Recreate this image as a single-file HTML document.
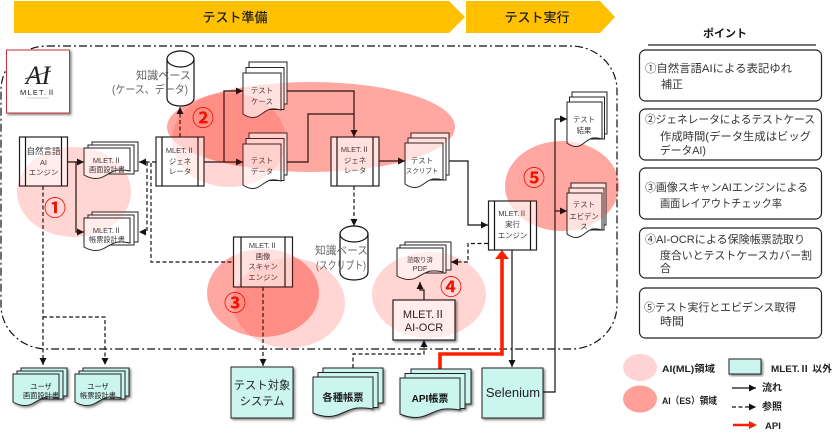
<!DOCTYPE html>
<html lang="ja"><head><meta charset="utf-8"><title>MLET.Ⅱ</title>
<style>
html,body{margin:0;padding:0;background:#fff;width:840px;height:439px;overflow:hidden}
svg{display:block;filter:blur(.35px)}
text{font-family:"Liberation Sans","Noto Sans CJK JP",sans-serif;fill:#333}
.c{text-anchor:middle}
.n{font-size:7.4px;fill:#3a3a3a}
.u{font-size:7.2px;fill:#222}
.k{font-size:11px;fill:#666}
.p{font-size:11px;fill:#333}
.l{font-size:9.5px;font-weight:bold;fill:#222}
.num{font-size:22px;font-weight:bold;fill:#f01000;text-anchor:middle}
.w{fill:#fff;stroke:#222;stroke-width:1}
.t{fill:#cbf6ef;stroke:#222;stroke-width:1}
.ln{fill:none;stroke:#111;stroke-width:1.2}
.a{fill:none;stroke:#111;stroke-width:1.2;marker-end:url(#ar)}
.d{fill:none;stroke:#111;stroke-width:1.2;stroke-dasharray:4 2.5}
.da{fill:none;stroke:#111;stroke-width:1.2;stroke-dasharray:4 2.5;marker-end:url(#ar)}
.b{fill:#fff;stroke:#222;stroke-width:1.2}
</style></head><body>
<svg width="840" height="439" viewBox="0 0 840 439" xmlns="http://www.w3.org/2000/svg">
<defs>
<marker id="ar" markerUnits="userSpaceOnUse" markerWidth="8" markerHeight="8" refX="7" refY="3.5" orient="auto"><path d="M0 0L7 3.5L0 7z" fill="#111"/></marker>
<filter id="s" x="-15%" y="-15%" width="135%" height="135%"><feDropShadow dx="1.5" dy="1.5" stdDeviation="1.2" flood-color="#000" flood-opacity=".5"/></filter>
</defs>

<!-- header chevrons -->
<path d="M14 1H449L465 17L449 33H14z" fill="#ffc000"/>
<path d="M466 1H600L615 17L600 33H466z" fill="#ffc000"/>
<text x="235" y="22" class="c" style="font-size:13px;fill:#222;font-weight:500">テスト準備</text>
<text x="537" y="22" class="c" style="font-size:13px;fill:#222;font-weight:500">テスト実行</text>

<!-- ellipses (under) -->
<g fill="#ff1200">
<ellipse cx="74" cy="192" rx="57" ry="45" opacity=".1"/>
<ellipse cx="229" cy="140" rx="57" ry="47" opacity=".1"/>
<ellipse cx="289" cy="303" rx="56" ry="45" opacity=".1"/>
<ellipse cx="429" cy="295" rx="57" ry="43" opacity=".1"/>
<ellipse cx="311" cy="127" rx="144" ry="45" opacity=".28"/>
<ellipse cx="263" cy="293" rx="56" ry="44" opacity=".28"/>
<ellipse cx="562" cy="186" rx="57" ry="45" opacity=".28"/>
</g>

<!-- boundary -->
<rect x="1" y="46" width="616" height="303" rx="46" ry="44" fill="none" stroke="#111" stroke-width="1.2" stroke-dasharray="8 3 2 3"/>

<!-- logo -->
<rect x="6.5" y="50" width="63" height="63" fill="#fff" stroke="#c8303a" stroke-width="1" filter="url(#s)"/>
<text x="38" y="84" class="c" style="font-family:'Liberation Serif',serif;font-size:26px;font-style:italic;fill:#222">AI</text>
<path d="M25 79C34 76 44 73 51 71" fill="none" stroke="#222" stroke-width=".7"/>
<text x="38" y="95" class="c" style="font-size:7.5px;letter-spacing:1.2px;fill:#222">MLET.Ⅱ</text>
<path d="M27 98H49" stroke="#999" stroke-width=".6"/>

<!-- connectors -->
<path class="a" d="M67 162H84"/>
<path class="a" d="M76 162V232H84"/>
<path class="da" d="M156 162H139"/>
<path class="da" d="M147 162V232H139"/>
<path class="d" d="M151 163V262H233"/>
<path class="da" d="M43 186V365"/>
<path class="da" d="M43 317H105V365"/>
<path class="da" d="M180 137V107"/>
<path class="a" d="M204 162H243"/>
<path class="a" d="M224 162V91H243"/>
<path class="a" d="M287 91H354V137"/>
<path class="ln" d="M287 162H308V114H354"/>
<path class="a" d="M379 161H405"/>
<path class="a" d="M449 161H468V225H488"/>
<path class="da" d="M354 186V226"/>
<path class="d" d="M488 243.500H468V262"/>
<path class="da" d="M468 262H451"/>
<path class="a" d="M424 300V290H420V282"/>
<path class="da" d="M353 368V354H424V340"/>
<path class="a" d="M512 250V367"/>
<path class="ln" d="M543 392H555V119"/>
<path class="a" d="M555 119H567"/>
<path class="a" d="M555 211H567"/>
<path class="da" d="M263 287V366"/>
<path d="M440 369V354H502V258" fill="none" stroke="#fa2000" stroke-width="3.6"/>
<path d="M495 259L502 250L509 259z" fill="#fa2000"/>

<!-- cylinders -->
<g fill="none" stroke="#111" stroke-width="1.2">
<path d="M167 59V98C167 103 173 106 180.500 106S194 103 194 98V59"/>
<ellipse cx="180.500" cy="59" rx="13.500" ry="8"/>
<path d="M340 234V272C340 277 346 280 354 280S368 277 368 272V234"/>
<ellipse cx="354" cy="234" rx="14" ry="8"/>
</g>

<!-- process boxes -->
<g class="b">
<rect class="b" x="19.500" y="137" width="48" height="49"/><path class="ln" d="M25.500 137V186M61.500 137V186"/>
<rect class="b" x="156" y="137" width="48" height="49"/><path class="ln" d="M162 137V186M198 137V186"/>
<rect class="b" x="331" y="137" width="48" height="49"/><path class="ln" d="M337 137V186M373 137V186"/>
<rect class="b" x="488.500" y="201" width="48" height="49"/><path class="ln" d="M494.500 201V250M530.500 201V250"/>
<rect class="b" x="233.500" y="237" width="59" height="50"/><path class="ln" d="M241 237V287M285 237V287"/>
</g>
<rect class="b" x="393" y="300" width="62" height="40" filter="url(#s)"/>

<!-- white docs -->
<g class="w">
<rect class="w" x="92" y="142" width="46" height="29"/><rect class="w" x="88" y="145" width="46" height="29"/>
<path class="w" d="M84 148h46v23c-13.800 -3 -16.100 0 -25.300 5c-6.900 4 -13.800 3 -20.700 -1z"/>
<rect class="w" x="92" y="212" width="46" height="30"/><rect class="w" x="88" y="215" width="46" height="30"/>
<path class="w" d="M84 218h46v25c-13.800 -3 -16.100 0 -25.300 5c-6.900 4 -13.800 3 -20.700 -1z"/>
<rect class="w" x="249" y="62" width="38" height="42"/><rect class="w" x="246" y="67.500" width="38" height="42"/>
<path class="w" d="M243 73h38v37c-11.400 -3 -13.300 0 -20.900 5c-5.700 4 -11.400 3 -17.100 -1z"/>
<rect class="w" x="249" y="133" width="38" height="42"/><rect class="w" x="246" y="138.500" width="38" height="42"/>
<path class="w" d="M243 144h38v37c-11.400 -3 -13.300 0 -20.900 5c-5.700 4 -11.400 3 -17.100 -1z"/>
<rect class="w" x="411" y="133" width="38" height="42"/><rect class="w" x="408" y="138" width="38" height="42"/>
<path class="w" d="M405 143h38v37c-11.400 -3 -13.300 0 -20.900 5c-5.700 4 -11.400 3 -17.100 -1z"/>
<rect class="w" x="572" y="92" width="35" height="42"/><rect class="w" x="569.500" y="97" width="35" height="42"/>
<path class="w" d="M567 102h35v37c-10.500 -3 -12.250 0 -19.250 5c-5.250 4 -10.500 3 -15.750 -1z"/>
<rect class="w" x="571" y="183" width="35" height="42"/><rect class="w" x="569" y="188" width="35" height="42"/>
<path class="w" d="M567 193h35v37c-10.500 -3 -12.250 0 -19.250 5c-5.250 4 -10.500 3 -15.750 -1z"/>
<rect class="w" x="405" y="242" width="46" height="28"/><rect class="w" x="400" y="245" width="46" height="28"/>
<path class="w" d="M397 248h46v24c-13.800 -3 -16.100 0 -25.300 5c-6.900 4 -13.800 3 -20.700 -1z"/>
</g>

<!-- teal nodes -->
<g filter="url(#s)">
<rect class="t" x="21" y="368" width="46" height="28"/><rect class="t" x="17" y="371" width="46" height="28"/>
<path class="t" d="M13 374h46v24c-13.800 -3 -16.100 0 -25.300 5c-6.900 4 -13.800 3 -20.700 -1z"/>
</g>
<g filter="url(#s)">
<rect class="t" x="83" y="368" width="46" height="28"/><rect class="t" x="79" y="371" width="46" height="28"/>
<path class="t" d="M75 374h46v24c-13.800 -3 -16.100 0 -25.300 5c-6.900 4 -13.800 3 -20.700 -1z"/>
</g>
<rect class="t" x="231" y="367" width="62" height="51" filter="url(#s)"/>
<g filter="url(#s)">
<rect class="t" x="323" y="368" width="60" height="35"/><rect class="t" x="318" y="372.500" width="60" height="35"/>
<path class="t" d="M313 377h60v32c-18 -3 -21 0 -33 5c-9 4 -18 3 -27 -1z"/>
</g>
<g filter="url(#s)">
<rect class="t" x="411" y="369" width="60" height="35"/><rect class="t" x="405" y="373.500" width="60" height="35"/>
<path class="t" d="M400 378h60v32c-18 -3 -21 0 -33 5c-9 4 -18 3 -27 -1z"/>
</g>
<rect class="t" x="482" y="368" width="61" height="50" filter="url(#s)"/>

<!-- labels -->
<g>
<text class="c n" x="43.500" y="154" style="font-size:8.500px">自然言語</text><text class="c n" x="43.500" y="165">AI</text><text class="c n" x="43.500" y="175">エンジン</text>
<text class="c n" x="107" y="163">MLET.Ⅱ</text><text class="c n" x="107" y="172" style="font-size:7.200px">画面設計書</text>
<text class="c n" x="107" y="233">MLET.Ⅱ</text><text class="c n" x="107" y="242" style="font-size:7.200px">帳票設計書</text>
<text class="c n" x="180" y="153">MLET.Ⅱ</text><text class="c n" x="180" y="164">ジェネ</text><text class="c n" x="180" y="174">レータ</text>
<text class="c n" x="355" y="152">MLET.Ⅱ</text><text class="c n" x="355" y="163">ジェネ</text><text class="c n" x="355" y="173">レータ</text>
<text class="c n" x="262" y="93">テスト</text><text class="c n" x="262" y="104">ケース</text>
<text class="c n" x="262" y="163">テスト</text><text class="c n" x="262" y="174">データ</text>
<text class="c n" x="422" y="163">テスト</text><text class="c n" x="422" y="173" style="font-size:6.500px">スクリプト</text>
<text class="c n" x="584" y="122">テスト</text><text class="c n" x="584" y="133">結果</text>
<text class="c n" x="584" y="207">テスト</text><text class="c n" x="584" y="219">エビデン</text><text class="c n" x="584" y="229">ス</text>
<text class="c n" x="512.500" y="216">MLET.Ⅱ</text><text class="c n" x="512.500" y="227">実行</text><text class="c n" x="512.500" y="238">エンジン</text>
<text class="c n" x="263" y="248">MLET.Ⅱ</text><text class="c n" x="263" y="259">画像</text><text class="c n" x="263" y="269">スキャン</text><text class="c n" x="263" y="280">エンジン</text>
<text class="c n" x="420" y="262" style="font-size:6.400px">読取り済</text><text class="c n" x="420" y="271">PDF</text>
</g>
<text class="c" x="424" y="318" style="font-size:11px;fill:#222">MLET.Ⅱ</text>
<text class="c" x="424" y="331" style="font-size:11px;fill:#222">AI-OCR</text>

<text class="c u" x="41" y="389">ユーザ</text><text class="c u" x="41" y="398">画面設計書</text>
<text class="c u" x="98" y="389">ユーザ</text><text class="c u" x="98" y="398">帳票設計書</text>
<text class="c" x="262" y="389" style="font-size:11.300px;fill:#222">テスト対象</text>
<text class="c" x="262" y="405" style="font-size:11.300px;fill:#222">システム</text>
<text class="c" x="343" y="401" style="font-size:10.300px;font-weight:bold;fill:#222">各種帳票</text>
<text class="c" x="430" y="402" style="font-size:10px;font-weight:bold;fill:#111">API帳票</text>
<text class="c" x="513" y="397" style="font-size:13px;fill:#222">Selenium</text>

<text class="k" x="136" y="79" textLength="55" lengthAdjust="spacingAndGlyphs">知識ベース</text>
<text class="k" x="112" y="93" textLength="76" lengthAdjust="spacingAndGlyphs">(ケース、データ)</text>
<text class="k" x="315" y="254" textLength="53" lengthAdjust="spacingAndGlyphs">知識ベース</text>
<text class="k" x="316" y="269" textLength="50" lengthAdjust="spacingAndGlyphs">(スクリプト)</text>

<!-- ellipses (over) -->
<g fill="#ff1200">
<ellipse cx="74" cy="192" rx="57" ry="45" opacity=".08"/>
<ellipse cx="229" cy="140" rx="57" ry="47" opacity=".08"/>
<ellipse cx="289" cy="303" rx="56" ry="45" opacity=".08"/>
<ellipse cx="429" cy="295" rx="57" ry="43" opacity=".08"/>
<ellipse cx="311" cy="127" rx="144" ry="45" opacity=".12"/>
<ellipse cx="263" cy="293" rx="56" ry="44" opacity=".12"/>
<ellipse cx="562" cy="186" rx="57" ry="45" opacity=".12"/>
</g>

<text class="num" x="55" y="216">①</text>
<text class="num" x="203" y="126">②</text>
<text class="num" x="235" y="311">③</text>
<text class="num" x="451" y="295">④</text>
<text class="num" x="534" y="186">⑤</text>

<!-- right panel -->
<text class="c" x="725" y="37" style="font-size:11px;font-weight:bold;fill:#111">ポイント</text>
<path d="M648 45H816" stroke="#222" stroke-width="1.2"/>
<g fill="#fff" stroke="#222" stroke-width="1.2">
<rect x="639.500" y="50" width="182" height="51" rx="6"/>
<rect x="639.500" y="109" width="182" height="51" rx="6"/>
<rect x="639.500" y="168" width="182" height="51" rx="6"/>
<rect x="639.500" y="228" width="182" height="50" rx="6"/>
<rect x="639.500" y="288" width="182" height="50" rx="6"/>
</g>
<text class="p" x="645" y="72" textLength="147" lengthAdjust="spacingAndGlyphs">①自然言語AIによる表記ゆれ</text>
<text class="p" x="661" y="88" textLength="22" lengthAdjust="spacingAndGlyphs">補正</text>
<text class="p" x="645" y="123" textLength="170" lengthAdjust="spacingAndGlyphs">②ジェネレータによるテストケース</text>
<text class="p" x="660" y="140" textLength="151" lengthAdjust="spacingAndGlyphs">作成時間(データ生成はビッグ</text>
<text class="p" x="660" y="154" textLength="46" lengthAdjust="spacingAndGlyphs">データAI)</text>
<text class="p" x="645" y="191" textLength="163" lengthAdjust="spacingAndGlyphs">③画像スキャンAIエンジンによる</text>
<text class="p" x="660" y="207" textLength="122" lengthAdjust="spacingAndGlyphs">画面レイアウトチェック率</text>
<text class="p" x="645" y="243" textLength="160" lengthAdjust="spacingAndGlyphs">④AI-OCRによる保険帳票読取り</text>
<text class="p" x="660" y="259" textLength="152" lengthAdjust="spacingAndGlyphs">度合いとテストケースカバー割</text>
<text class="p" x="660" y="272">合</text>
<text class="p" x="644" y="311" textLength="152" lengthAdjust="spacingAndGlyphs">⑤テスト実行とエビデンス取得</text>
<text class="p" x="660" y="325" textLength="24" lengthAdjust="spacingAndGlyphs">時間</text>

<!-- legend -->
<ellipse cx="640" cy="367.500" rx="17" ry="13.500" fill="#ffd3d3"/>
<ellipse cx="640" cy="399" rx="17" ry="13.500" fill="#ff9f98"/>
<text class="l" x="662" y="372" textLength="53" lengthAdjust="spacingAndGlyphs">AI(ML)領域</text>
<text class="l" x="662" y="404" textLength="55" lengthAdjust="spacingAndGlyphs">AI（ES）領域</text>
<rect class="t" x="729" y="359" width="32" height="15" filter="url(#s)"/>
<text class="l" x="771" y="372" textLength="61" lengthAdjust="spacingAndGlyphs">MLET.Ⅱ 以外</text>
<path d="M732 388H756" stroke="#111" stroke-width="1.2" marker-end="url(#ar)"/>
<text class="l" x="762" y="391" style="font-size:10px">流れ</text>
<path d="M732 407H756" stroke="#111" stroke-width="1.2" stroke-dasharray="4 2.500" marker-end="url(#ar)"/>
<text class="l" x="762" y="410" style="font-size:10px">参照</text>
<path d="M733 425H750" stroke="#fa2000" stroke-width="2.600"/>
<path d="M749 421L757 425L749 429z" fill="#fa2000"/>
<text class="l" x="765" y="429">API</text>
</svg>
</body></html>
